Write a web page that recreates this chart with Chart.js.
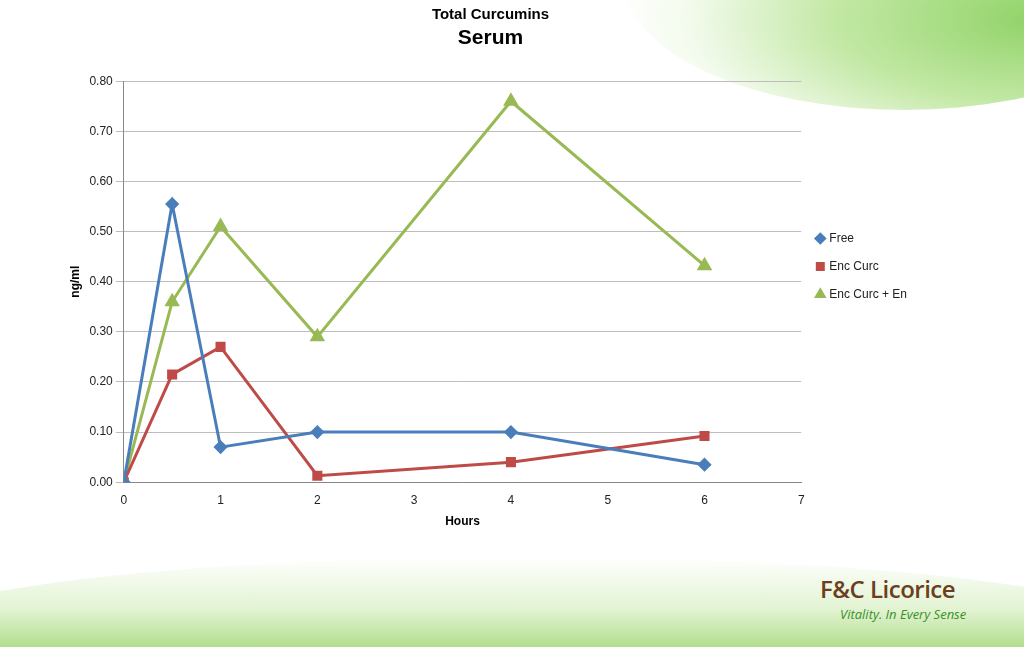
<!DOCTYPE html>
<html>
<head>
<meta charset="utf-8">
<script src="https://cdn.jsdelivr.net/npm/chart.js@4"></script>
<style>
  html, body { margin: 0; padding: 0; }
  body {
    width: 1024px; height: 647px; overflow: hidden; position: relative;
    font-family: "Open Sans", Calibri, sans-serif;
    background: #ffffff;
  }
  .swoosh-top {
    position: absolute; right: -160px; top: -150px; width: 560px; height: 260px;
    border-radius: 50%;
    background: radial-gradient(ellipse at 75% 65%, #8fd266 0%, #c2e8a4 35%, rgba(235,248,225,0.6) 60%, rgba(255,255,255,0) 72%);
  }
  .swoosh-bottom {
    position: absolute; left: -100px; bottom: -60px; width: 1250px; height: 150px;
    background: linear-gradient(180deg, rgba(255,255,255,0) 0%, #e2f3d2 35%, #9ed672 70%, #4fae2e 100%);
    border-radius: 50% 50% 0 0;
  }
  #wrap { position: absolute; left: 0; top: 0; width: 976px; height: 533px; }
  .logo { position: absolute; left: 820px; top: 572px; color: #6b3f1e; }
  .logo .name { font-size: 24px; font-weight: 600; letter-spacing: -0.5px; }
  .logo .tag { font-size: 13px; font-style: italic; color: #3b8f2a; margin-left: 20px; }
</style>
</head>
<body>
<div class="swoosh-top"></div>
<div class="swoosh-bottom"></div>
<div id="wrap"><canvas id="chart"></canvas></div>
<div class="logo"><div class="name">F&amp;C Licorice</div><div class="tag">Vitality. In Every Sense</div></div>
<script>
// horas de coleta e valores
const horas = [0, 0.5, 1, 2, 4, 6];
const free = [0, 0.555, 0.07, 0.10, 0.10, 0.035];
const encCurc = [0, 0.215, 0.27, 0.013, 0.04, 0.092];
const encCurcEn = [0, 0.36, 0.51, 0.29, 0.76, 0.432];

const pts = vals => horas.map((h, i) => ({ x: h, y: vals[i] }));

const serie = (label, vals, cor, estilo, raio) => ({
  label, data: pts(vals), borderColor: cor, backgroundColor: cor,
  borderWidth: 3, pointStyle: estilo, pointRadius: raio, pointHoverRadius: raio, tension: 0
});

new Chart(document.getElementById('chart'), {
  type: 'line',
  data: {
    datasets: [
      serie('Free', free, '#4a7ebb', 'rectRot', 5),
      serie('Enc Curc', encCurc, '#be4b48', 'rect', 5),
      serie('Enc Curc + En', encCurcEn, '#98b954', 'triangle', 6)
    ]
  },
  options: {
    responsive: true, maintainAspectRatio: false, animation: false,
    layout: { padding: { left: 64, right: 59, top: 0, bottom: 0 } },
    plugins: {
      title: { display: true, text: 'Total Curcumins', color: '#000', font: { size: 15, weight: 'bold' }, padding: { top: 6, bottom: 2 } },
      subtitle: { display: true, text: 'Serum', color: '#000', font: { size: 21, weight: 'bold' }, padding: { bottom: 30 } },
      legend: {
        position: 'right',
        labels: { usePointStyle: true, boxWidth: 6, boxHeight: 6, padding: 16, color: '#222', font: { size: 12 } }
      },
      tooltip: { enabled: false }
    },
    scales: {
      x: {
        type: 'linear', min: 0, max: 7,
        ticks: { stepSize: 1, color: '#222', font: { size: 12 } },
        grid: { display: false },
        border: { color: '#888' },
        title: { display: true, text: 'Hours', color: '#000', font: { size: 12, weight: 'bold' } }
      },
      y: {
        min: 0, max: 0.8,
        ticks: { stepSize: 0.1, color: '#222', font: { size: 12 }, callback: v => v.toFixed(2) },
        grid: { color: '#bdbdbd', drawTicks: true },
        border: { color: '#888' },
        title: { display: true, text: 'ng/ml', color: '#000', font: { size: 12, weight: 'bold' } }
      }
    }
  }
});
</script>
</body>
</html>
